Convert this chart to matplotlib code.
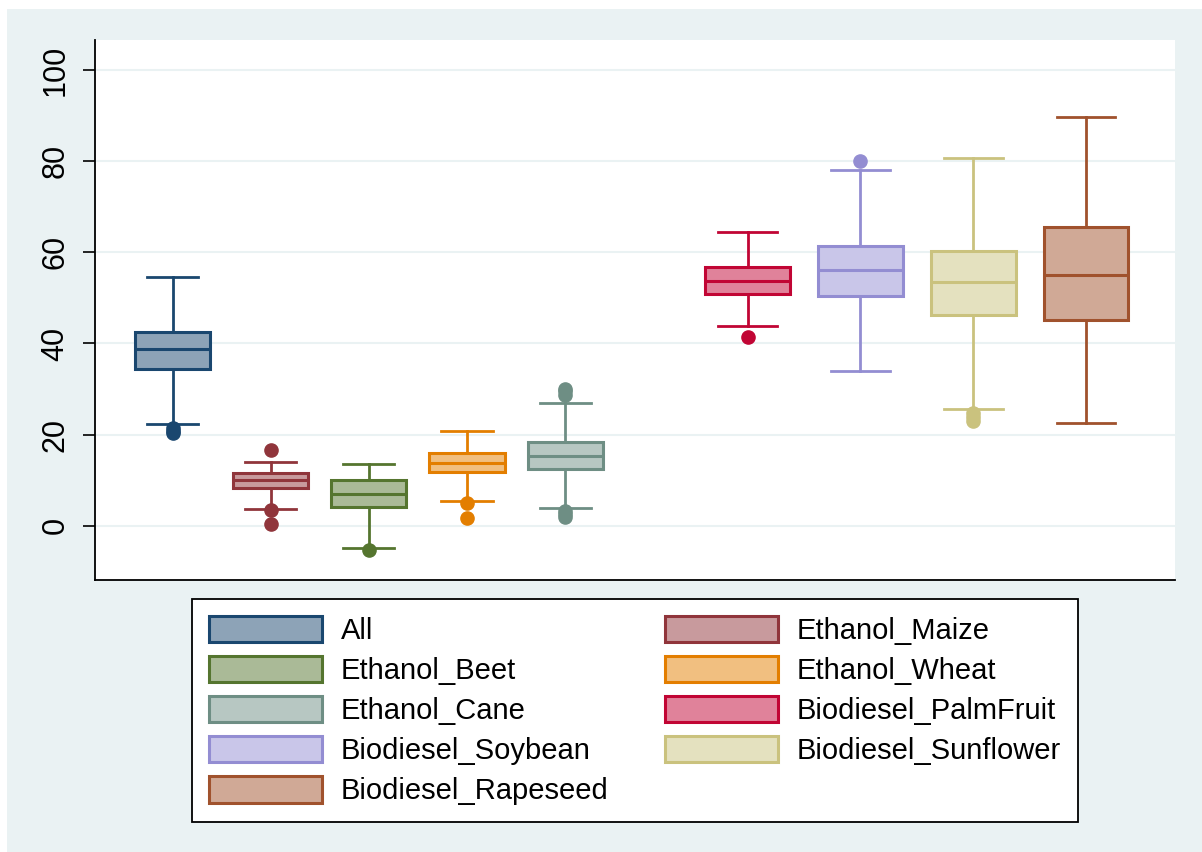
import numpy as np
import matplotlib.pyplot as plt
from matplotlib.colors import to_rgb
from matplotlib.patches import Patch, Rectangle

plt.rcParams['font.family'] = ['Liberation Sans', 'DejaVu Sans']

# data (box stats per pathway)
labels = ['All', 'Ethanol_Maize', 'Ethanol_Beet', 'Ethanol_Wheat', 'Ethanol_Cane',
          'Biodiesel_PalmFruit', 'Biodiesel_Soybean', 'Biodiesel_Sunflower',
          'Biodiesel_Rapeseed']
whislo = [22.4, 3.6, -4.8, 5.5, 3.8, 43.8, 33.9, 25.6, 22.6]
q1 = [34.4, 8.3, 4.1, 11.8, 12.4, 50.8, 50.4, 46.2, 45.2]
med = [38.9, 10.0, 6.9, 13.7, 15.3, 53.8, 56.2, 53.4, 55.0]
q3 = [42.6, 11.6, 10.0, 15.9, 18.4, 56.8, 61.4, 60.2, 65.6]
whishi = [54.5, 14.0, 13.6, 20.8, 27.0, 64.5, 78.0, 80.8, 89.8]
fliers = [[21.5, 20.8, 20.3],
          [16.7, 3.4, 0.4],
          [-5.3],
          [5.0, 1.7],
          [30.0, 29.5, 28.8, 3.2, 2.5, 1.9],
          [41.5],
          [80.0],
          [24.8, 23.8, 22.9],
          []]

colors = ['#1A476F', '#90353B', '#55752F', '#E37E00', '#6E8E84',
          '#C10534', '#938DD2', '#CAC27E', '#A0522D']

# layout: first five boxes are narrower and closer together
positions = [1, 2, 3, 4, 5, 6.86, 8.01, 9.16, 10.31]
widths = [0.765] * 5 + [0.866] * 4
capw = [0.52] * 5 + [0.60] * 4

bg = '#EAF2F3'


def light(c, amt=0.5):
    r = np.array(to_rgb(c))
    return tuple(r * amt + (1 - amt))


fig = plt.figure(figsize=(12.02, 8.52), dpi=100, facecolor='white')
fig.patches.append(Rectangle((7 / 1202, 0), 1, 1 - 9 / 852, transform=fig.transFigure,
                             facecolor=bg, edgecolor='none', zorder=-10))

ax = fig.add_axes([95 / 1202, 1 - 580 / 852, 1080 / 1202, 540 / 852])
ax.set_facecolor('white')

for i in range(len(labels)):
    st = [dict(med=med[i], q1=q1[i], q3=q3[i], whislo=whislo[i], whishi=whishi[i],
               fliers=fliers[i], label=labels[i])]
    c = colors[i]
    ax.bxp(st, positions=[positions[i]], widths=[widths[i]], capwidths=[capw[i]],
           patch_artist=True, showfliers=True,
           boxprops=dict(facecolor=light(c), edgecolor=c, linewidth=2.2),
           medianprops=dict(color=c, linewidth=2.2),
           whiskerprops=dict(color=c, linewidth=2.0),
           capprops=dict(color=c, linewidth=2.0),
           flierprops=dict(marker='o', markerfacecolor=c, markeredgecolor=c,
                           markersize=9.5, linestyle='none'),
           manage_ticks=False, zorder=3)

ax.set_xlim(0.208, 11.217)
ax.set_ylim(-11.9, 106.6)
ax.set_yticks([0, 20, 40, 60, 80, 100])
ax.set_xticks([])
ax.grid(axis='y', color=bg, linewidth=1.5, zorder=0)
ax.set_axisbelow(True)
for s in ['top', 'right']:
    ax.spines[s].set_visible(False)
for s in ['left', 'bottom']:
    ax.spines[s].set_linewidth(1.3)
    ax.spines[s].set_color('black')
ax.tick_params(axis='y', length=8.6, width=1.2, pad=9, labelsize=22)
for t in ax.get_yticklabels():
    t.set_rotation(90)
    t.set_va('center')

# legend, filled row by row like the reference
handles = [Patch(facecolor=light(c), edgecolor=c, linewidth=2.2) for c in colors]
order = list(range(0, 9, 2)) + list(range(1, 9, 2))
leg = fig.legend([handles[k] for k in order], [labels[k] for k in order],
                 loc='upper center', bbox_to_anchor=(635 / 1202, 1 - 599 / 852),
                 ncol=2, fontsize=21, frameon=True, fancybox=False,
                 edgecolor='black', framealpha=1, handlelength=3.87, handleheight=1.0,
                 handletextpad=0.64, labelspacing=0.38, columnspacing=1.94,
                 borderpad=0.58, borderaxespad=0)
leg.get_frame().set_linewidth(1.3)

fig.savefig('out.png', dpi=100, facecolor=fig.get_facecolor())
